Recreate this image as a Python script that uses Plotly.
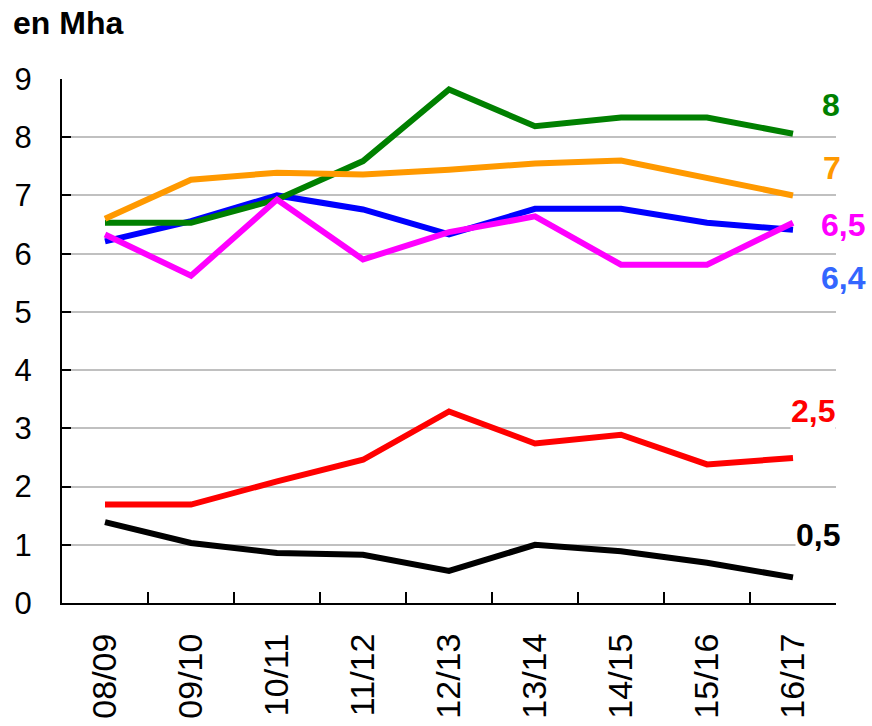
import plotly.graph_objects as go

seasons = ["08/09", "09/10", "10/11", "11/12", "12/13", "13/14", "14/15", "15/16", "16/17"]

blue_vals = [6.21, 6.56, 7.0, 6.76, 6.33, 6.77, 6.77, 6.53, 6.41]
green_vals = [6.53, 6.53, 6.93, 7.59, 8.82, 8.19, 8.34, 8.34, 8.06]
orange_vals = [6.6, 7.27, 7.39, 7.36, 7.44, 7.55, 7.6, 7.3, 7.0]
magenta_vals = [6.33, 5.62, 6.93, 5.9, 6.37, 6.64, 5.81, 5.81, 6.53]
red_vals = [1.69, 1.69, 2.09, 2.46, 3.29, 2.74, 2.89, 2.38, 2.49]
black_vals = [1.39, 1.03, 0.86, 0.83, 0.55, 1.0, 0.89, 0.69, 0.44]

end_labels = ["8", "7", "6,5", "6,4", "2,5", "0,5"]
y_ticks = [0, 1, 2, 3, 4, 5, 6, 7, 8, 9]

FONT = "Liberation Sans, Arial, sans-serif"

series = [
    (blue_vals, "#0000FF"),
    (green_vals, "#008000"),
    (orange_vals, "#FF9900"),
    (magenta_vals, "#FF00FF"),
    (red_vals, "#FF0000"),
    (black_vals, "#000000"),
]

fig = go.Figure()
for vals, col in series:
    fig.add_trace(go.Scatter(x=seasons, y=vals, mode="lines",
                             line=dict(color=col, width=6),
                             showlegend=False, hoverinfo="skip"))

# end labels: (text, color, pixel x-shift from right edge, y position in data units)
label_specs = [
    (end_labels[0], "#008000", -5, 8.56),
    (end_labels[1], "#FF9900", -4, 7.48),
    (end_labels[2], "#FF00FF", 7, 6.49),
    (end_labels[3], "#3366FF", 7, 5.59),
    (end_labels[4], "#FF0000", -23, 3.29),
    (end_labels[5], "#000000", -18, 1.17),
]
for txt, col, dx, yy in label_specs:
    fig.add_annotation(text="<b>%s</b>" % txt, xref="paper", yref="y",
                       x=1, y=yy, xshift=dx, xanchor="center", yanchor="middle",
                       showarrow=False, bgcolor="white", borderpad=0,
                       font=dict(family=FONT, size=32, color=col))

fig.add_annotation(text="<b>en Mha</b>", xref="paper", yref="paper",
                   x=0, y=1, xshift=-51, yshift=56, xanchor="left", yanchor="middle",
                   showarrow=False, font=dict(family=FONT, size=32, color="#000000"))

fig.update_layout(
    width=872, height=726,
    margin=dict(l=62, r=36, t=79, b=123, autoexpand=False),
    paper_bgcolor="white", plot_bgcolor="white",
    font=dict(family=FONT, color="#000000"),
)
fig.update_xaxes(
    type="category", range=[-0.5, 8.5], automargin=False,
    showline=True, linecolor="#000000", linewidth=2,
    ticks="inside", tickson="boundaries", ticklen=11, tickwidth=2, tickcolor="#000000",
    tickangle=-90, tickfont=dict(family=FONT, size=34, color="#000000"),
    ticklabelstandoff=15, showgrid=False, zeroline=False,
)
fig.update_yaxes(
    range=[0, 9], tickvals=y_ticks, ticktext=[str(v) for v in y_ticks], automargin=False,
    showline=True, linecolor="#000000", linewidth=2,
    ticks="inside", ticklen=9, tickwidth=2, tickcolor="#000000",
    tickfont=dict(family=FONT, size=31, color="#000000"),
    ticklabelstandoff=22,
    showgrid=True, gridcolor="#C0C0C0", gridwidth=2, zeroline=False,
)

fig.write_html("out.html", config={"displayModeBar": False},
               post_script="document.body.style.margin='0';document.body.style.overflow='hidden';")
